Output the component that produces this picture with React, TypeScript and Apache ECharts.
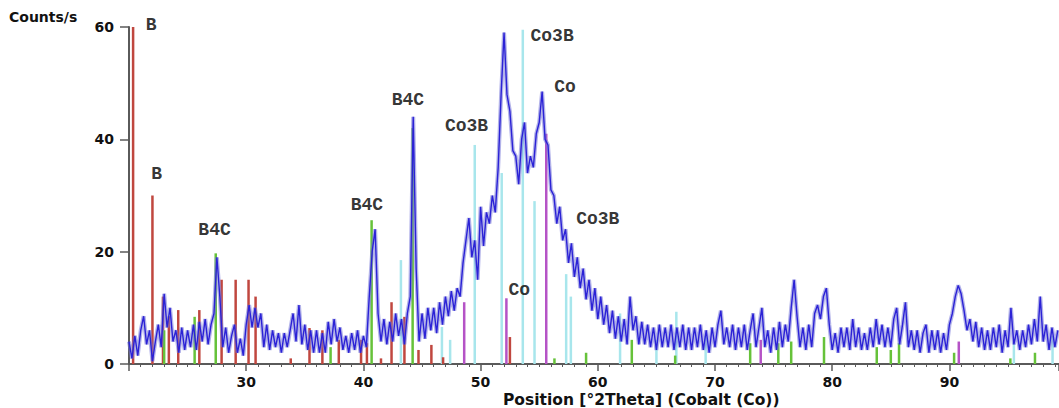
import React, { useEffect, useRef } from "react";
import * as echarts from "echarts";

// Measured intensity (Counts/s), sampled every 0.25 °2Theta starting at 20
const THETA_START = 20;
const THETA_STEP = 0.25;
const counts: number[] = [
  4, 1, 5, 1.5, // 20
  6, 8.5, 3.5, 6, // 21
  0.5, 4, 7, 3, // 22
  12.5, 6.5, 10, 4, // 23
  6, 2, 6.5, 2.5, // 24
  6, 3, 7, 2.5, // 25
  7.5, 4, 8, 3.5, // 26
  7, 9, 19, 12, // 27
  3, 6.5, 2, 5, // 28
  7, 2, 4.5, 1.5, // 29
  7, 10.5, 6.5, 10, // 30
  6.5, 9, 3, 7, // 31
  2.5, 6, 3, 5.5, // 32
  2, 5.5, 3, 6, // 33
  9, 4, 10.5, 3.5, // 34
  7, 2.5, 6, 2, // 35
  6, 2, 5.5, 2, // 36
  7.5, 3.5, 8, 4, // 37
  6.5, 2.5, 5, 2, // 38
  5.5, 2.5, 6, 2, // 39
  5, 3, 12, 20, // 40
  24, 9, 4, 8, // 41
  3.5, 7.5, 4, 9, // 42
  5, 8, 3.5, 9, // 43
  12, 44, 17, 4, // 44
  9, 4.5, 10, 6, // 45
  10, 5.5, 11, 7, // 46
  12, 8.5, 13, 9.5, // 47
  13.5, 12, 18, 22, // 48
  26, 19, 22, 15, // 49
  28, 21, 27, 25, // 50
  30, 27, 35, 48, // 51
  59, 48, 45, 38, // 52
  37, 32, 40, 43, // 53
  34, 37, 35, 41, // 54
  43, 48.5, 40, 39, // 55
  31, 30, 25, 28, // 56
  22, 24, 18, 21.5, // 57
  15.5, 19, 13.5, 17, // 58
  11.5, 15, 9.5, 13.5, // 59
  8, 12, 7, 10.5, // 60
  5.5, 9.5, 4.5, 8.5, // 61
  4, 8, 3.5, 12, // 62
  6, 8.5, 3.5, 7.5, // 63
  3.5, 7, 3, 6.5, // 64
  2.5, 7, 3, 6.5, // 65
  3, 7, 2.5, 6.5, // 66
  3, 7, 2.5, 6.5, // 67
  2.5, 6.5, 3, 7, // 68
  2.5, 6, 2, 6.5, // 69
  3, 7, 9.5, 3.5, // 70
  6.5, 3, 7, 2.5, // 71
  6.5, 3, 7, 2.5, // 72
  6, 9, 3, 6.5, // 73
  10, 3, 6, 2, // 74
  6.5, 2.5, 7.5, 3, // 75
  7, 4, 10, 15, // 76
  8.5, 3, 6.5, 2.5, // 77
  7, 3, 9, 10.5, // 78
  8, 12, 13.5, 7, // 79
  2.5, 5.5, 2, 6.5, // 80
  3, 6.5, 2.5, 8, // 81
  3, 6.5, 2.5, 5.5, // 82
  2.5, 6.5, 3, 8, // 83
  3.5, 7, 3, 6.5, // 84
  3, 8, 10, 3.5, // 85
  7, 11, 3, 6, // 86
  2.5, 6, 2, 5.5, // 87
  7, 2, 6, 2.5, // 88
  6, 2, 5.5, 2.5, // 89
  7, 9, 12, 14, // 90
  12.5, 9.5, 6, 8, // 91
  4, 7.5, 3, 6.5, // 92
  2.5, 6, 2.5, 6.5, // 93
  3, 7, 2, 6, // 94
  3, 10, 3.5, 6, // 95
  2.5, 6, 3, 7, // 96
  3.5, 8, 4, 12, // 97
  4, 7, 2.5, 6.5, // 98
  3, 6, // 99
];

// Reference patterns: [position °2Theta, relative intensity]
const boronSticks: number[][] = [
  [20.35, 60], [22.0, 30], [22.9, 12], [23.4, 8.5], [24.2, 9.6], [26.0, 9.6],
  [27.9, 15], [29.1, 15], [30.2, 15], [30.8, 12], [33.8, 1], [35.4, 6.4],
  [36.5, 6], [37.9, 4.3], [39.8, 4.3], [40.3, 3.7], [41.5, 1], [42.4, 11],
  [43.5, 8.4], [44.7, 2.5], [45.8, 3.4], [46.8, 1.2], [52.5, 4.8],
];
const b4cSticks: number[][] = [
  [23.0, 6], [25.6, 8.4], [27.4, 19.7], [37.2, 3], [40.7, 25.6], [44.2, 42],
  [56.3, 1], [59.0, 2], [62.9, 4.3], [66.6, 1.5], [73.0, 3.7], [75.4, 3.7],
  [76.5, 4], [79.3, 4.8], [83.8, 3], [85.0, 2.5], [85.7, 3.7], [90.4, 2],
  [95.2, 1], [97.3, 2],
];
const co3bSticks: number[][] = [
  [43.2, 18.5], [46.7, 6.6], [47.4, 4.3], [49.5, 39], [51.8, 34], [53.6, 59.5],
  [54.6, 29], [57.3, 16], [57.7, 12], [61.9, 9], [65.0, 4.3], [66.7, 9.3],
  [69.2, 5], [95.5, 4], [98.8, 5],
];
const coSticks: number[][] = [
  [48.6, 11], [52.2, 11.7], [55.6, 41], [73.9, 4.3], [90.8, 4],
];

const peakLabels = [
  { name: "B", value: [21.9, 60.3] },
  { name: "B", value: [22.36, 33.9] },
  { name: "B4C", value: [27.3, 23.9] },
  { name: "B4C", value: [40.3, 28.3] },
  { name: "B4C", value: [43.8, 47] },
  { name: "Co3B", value: [48.8, 42.3] },
  { name: "Co3B", value: [56.1, 58.4] },
  { name: "Co", value: [57.2, 49.4] },
  { name: "Co3B", value: [60.0, 25.9] },
  { name: "Co", value: [53.3, 13.2] },
];

const xTicks = { min: 20, max: 99.35, interval: 10 };
const yTicks = { min: 0, max: 60, interval: 20 };

function stickSeries(data: number[][], color: string, width: number) {
  return {
    type: "custom",
    data,
    encode: { x: 0, y: 1 },
    z: 2,
    clip: false,
    renderItem: (_params: any, api: any) => {
      const x = api.value(0);
      const y = api.value(1);
      const p0 = api.coord([x, 0]);
      const p1 = api.coord([x, y]);
      return {
        type: "line",
        shape: { x1: p0[0], y1: p0[1], x2: p1[0], y2: p1[1] },
        style: { stroke: color, lineWidth: width },
      };
    },
  };
}

export default function App() {
  const ref = useRef<HTMLDivElement>(null);
  useEffect(() => {
    if (!ref.current) return;
    const chart = echarts.init(ref.current, undefined, { renderer: "svg" });
    const lineData = counts.map((c, i) => [THETA_START + i * THETA_STEP, c]);
    const axisFont = {
      fontFamily: "DejaVu Sans",
      fontWeight: "bold" as const,
      fontSize: 14,
      color: "#111",
    };
    chart.setOption({
      animation: false,
      backgroundColor: "#ffffff",
      grid: { left: 129, right: 0, top: 27, bottom: 44 },
      xAxis: {
        type: "value",
        min: xTicks.min,
        max: xTicks.max,
        interval: xTicks.interval,
        axisLine: { show: true, lineStyle: { color: "#5a5a5a", width: 2 } },
        axisTick: { show: true, length: 7, lineStyle: { color: "#5a5a5a", width: 1.5 } },
        minorTick: { show: true, splitNumber: 10, length: 3, lineStyle: { color: "#5a5a5a", width: 1 } },
        splitLine: { show: false },
        axisLabel: { ...axisFont, margin: 11, showMinLabel: false, showMaxLabel: false },
      },
      yAxis: {
        type: "value",
        min: yTicks.min,
        max: yTicks.max,
        interval: yTicks.interval,
        axisLine: { show: true, lineStyle: { color: "#5a5a5a", width: 2 } },
        axisTick: { show: true, length: 9, lineStyle: { color: "#5a5a5a", width: 1.5 } },
        splitLine: { show: false },
        axisLabel: { ...axisFont, margin: 15 },
      },
      graphic: [
        {
          type: "text",
          left: 9,
          top: 10,
          style: { text: "Counts/s", fill: "#111", font: "bold 14px 'DejaVu Sans'" },
        },
        {
          type: "text",
          left: 503,
          top: 392,
          style: {
            text: "Position [°2Theta] (Cobalt (Co))",
            fill: "#111",
            font: "bold 15.5px 'DejaVu Sans'",
          },
        },
      ],
      series: [
        stickSeries(co3bSticks, "#a8e6ec", 2.5),
        stickSeries(boronSticks, "#c0473f", 2.5),
        stickSeries(b4cSticks, "#66c23a", 2.5),
        stickSeries(coSticks, "#b553c6", 2.5),
        {
          type: "line",
          data: lineData,
          symbol: "none",
          z: 3,
          lineStyle: { color: "rgba(115,115,215,0.55)", width: 4 },
        },
        {
          type: "line",
          data: lineData,
          symbol: "none",
          z: 4,
          lineStyle: { color: "#2b22d6", width: 1.4 },
        },
        {
          type: "scatter",
          data: peakLabels,
          symbolSize: 0,
          clip: false,
          z: 5,
          label: {
            show: true,
            position: "inside",
            formatter: (p: any) => p.name,
            fontFamily: "Liberation Mono",
            fontWeight: "bold",
            fontSize: 18,
            color: "#000",
          },
        },
      ],
    });
    return () => chart.dispose();
  }, []);
  return (
    <div
      ref={ref}
      style={{ position: "fixed", left: 0, top: 0, width: 1059, height: 408, background: "#fff" }}
    />
  );
}
